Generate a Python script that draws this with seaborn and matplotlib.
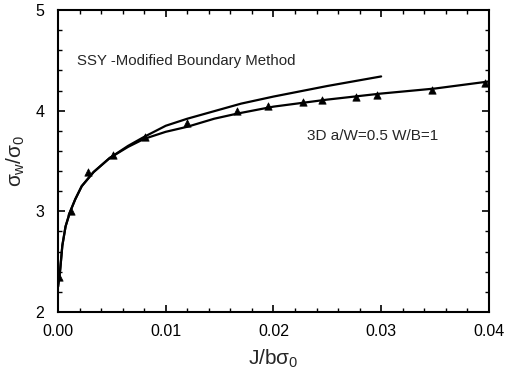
import numpy as np
import pandas as pd
import matplotlib
matplotlib.use("Agg")
import matplotlib.pyplot as plt
import seaborn as sns
from matplotlib.ticker import MultipleLocator, FormatStrFormatter

# 3D FE data points (triangles)
pts_x = [0.0001, 0.0012, 0.0028, 0.0051, 0.0081, 0.0120, 0.0166, 0.0195,
         0.0227, 0.0245, 0.0277, 0.0296, 0.0347, 0.0396]
pts_y = [2.35, 3.00, 3.39, 3.56, 3.74, 3.88, 4.00, 4.05,
         4.09, 4.11, 4.14, 4.16, 4.21, 4.27]

# Fit curve through 3D points
fit_x = [0.0, 0.0002, 0.0004, 0.0007, 0.0011, 0.0016, 0.0022, 0.0033, 0.0048,
         0.0065, 0.0080, 0.0100, 0.0120, 0.0145, 0.0166, 0.0200, 0.0250,
         0.0300, 0.0350, 0.0400]
fit_y = [2.25, 2.42, 2.66, 2.85, 2.99, 3.12, 3.25, 3.39, 3.53,
         3.64, 3.72, 3.79, 3.84, 3.92, 3.97, 4.04, 4.11,
         4.17, 4.22, 4.29]

# SSY - Modified Boundary Method curve
ssy_x = [0.0, 0.0002, 0.0004, 0.0007, 0.0011, 0.0016, 0.0022, 0.0033, 0.0048,
         0.0065, 0.0080, 0.0100, 0.0120, 0.0150, 0.0170, 0.0200, 0.0250, 0.0300]
ssy_y = [2.25, 2.42, 2.66, 2.85, 2.99, 3.12, 3.25, 3.39, 3.53,
         3.65, 3.74, 3.85, 3.92, 4.01, 4.07, 4.14, 4.245, 4.34]

sns.set_style("ticks")
plt.rcParams['font.family'] = ['Liberation Sans', 'DejaVu Sans']
plt.rcParams['mathtext.fontset'] = 'custom'
plt.rcParams['mathtext.rm'] = 'Liberation Sans'
plt.rcParams['mathtext.it'] = 'Liberation Sans'

fig = plt.figure(figsize=(5.05, 3.79), dpi=100)
ax = fig.add_axes([0.1149, 0.1768, 0.8531, 0.7968])

df_fit = pd.DataFrame({"x": fit_x, "y": fit_y})
df_ssy = pd.DataFrame({"x": ssy_x, "y": ssy_y})
df_pts = pd.DataFrame({"x": pts_x, "y": pts_y})

sns.lineplot(data=df_fit, x="x", y="y", ax=ax, color="black", lw=1.6, sort=False)
sns.lineplot(data=df_ssy, x="x", y="y", ax=ax, color="black", lw=1.6, sort=False)
sns.scatterplot(data=df_pts, x="x", y="y", ax=ax, marker="^", color="black",
                s=28, edgecolor="black", linewidth=0.5, zorder=5)

ax.set_xlim(0, 0.04)
ax.set_ylim(2, 5)
ax.xaxis.set_major_locator(MultipleLocator(0.01))
ax.xaxis.set_minor_locator(MultipleLocator(0.002))
ax.yaxis.set_major_locator(MultipleLocator(1))
ax.yaxis.set_minor_locator(MultipleLocator(0.2))
ax.xaxis.set_major_formatter(FormatStrFormatter('%.2f'))
ax.tick_params(which='both', direction='in', top=True, right=True,
               labelsize=11.5, colors='black')
ax.tick_params(axis='x', which='major', pad=9)
ax.tick_params(axis='y', which='major', pad=10)
ax.tick_params(which='major', length=5, width=1.2)
ax.tick_params(which='minor', length=3, width=1)
for s in ax.spines.values():
    s.set_linewidth(1.5)
    s.set_color('black')

ax.set_xlabel(r'J/b$\sigma_0$', fontsize=15, labelpad=6)
ax.set_ylabel(r'$\sigma_w/\sigma_0$', fontsize=15, labelpad=6)

ax.text(0.0018, 4.49, "SSY -Modified Boundary Method", fontsize=10.8, va='center')
ax.text(0.0231, 3.75, "3D a/W=0.5 W/B=1", fontsize=11, va='center')

fig.savefig("out.png", dpi=100)
